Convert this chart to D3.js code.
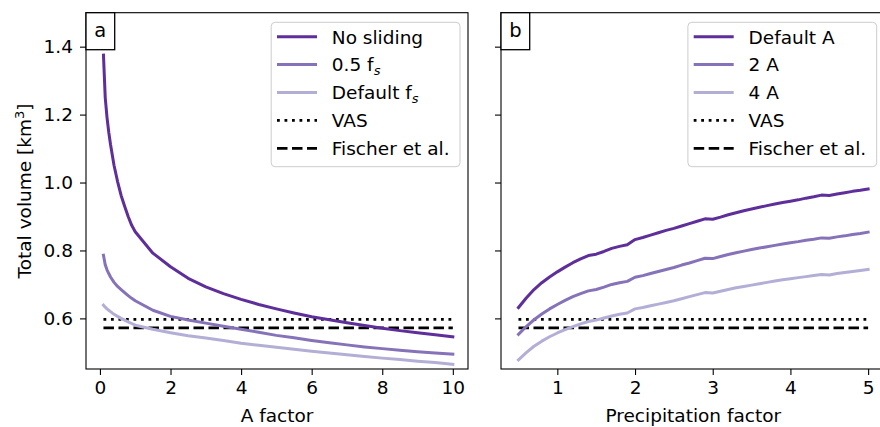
<!DOCTYPE html>
<html>
<head>
<meta charset="utf-8">
<script src="https://cdn.jsdelivr.net/npm/d3@7"></script>
<style>
  html, body { margin: 0; padding: 0; background: #ffffff; }
  svg { display: block; font-family: "DejaVu Sans", sans-serif; }
</style>
</head>
<body>
<svg id="chart" width="880" height="427"></svg>
<script>
// ---- Panel a: total volume vs. A factor ----
const aFactor = [0.1, 0.15, 0.2, 0.25, 0.3, 0.4, 0.5, 0.6, 0.7, 0.8, 0.9, 1.0,
  1.5, 2.0, 2.5, 3.0, 3.5, 4.0, 4.5, 5.0, 5.5, 6.0, 6.5, 7.0, 7.5, 8.0, 8.5, 9.0, 9.5, 10.0];
const noSliding = [1.375, 1.250, 1.192, 1.148, 1.112, 1.050, 1.003, 0.962, 0.930, 0.900, 0.874, 0.855,
  0.792, 0.752, 0.718, 0.693, 0.673, 0.656, 0.641, 0.628, 0.616, 0.605, 0.596, 0.587, 0.579, 0.571, 0.564, 0.558, 0.552, 0.546];
const halfFs = [0.786, 0.758, 0.743, 0.732, 0.722, 0.706, 0.694, 0.685, 0.676, 0.667, 0.659, 0.652,
  0.624, 0.606, 0.595, 0.586, 0.577, 0.568, 0.559, 0.550, 0.543, 0.535, 0.528, 0.522, 0.516, 0.511, 0.506, 0.502, 0.498, 0.495];
const defaultFs = [0.639, 0.633, 0.628, 0.624, 0.620, 0.612, 0.606, 0.600, 0.595, 0.590, 0.585, 0.580,
  0.568, 0.558, 0.549, 0.542, 0.535, 0.527, 0.521, 0.515, 0.509, 0.503, 0.498, 0.493, 0.488, 0.483, 0.479, 0.474, 0.470, 0.465];

// ---- Panel b: total volume vs. precipitation factor ----
const precipFactor = [0.5, 0.6, 0.7, 0.8, 0.9, 1.0, 1.1, 1.2, 1.3, 1.4, 1.5, 1.6, 1.7, 1.8, 1.9,
  2.0, 2.1, 2.2, 2.3, 2.4, 2.5, 2.6, 2.7, 2.8, 2.9, 3.0, 3.1, 3.2, 3.3, 3.4, 3.5, 3.6, 3.7, 3.8, 3.9,
  4.0, 4.1, 4.2, 4.3, 4.4, 4.5, 4.6, 4.7, 4.8, 4.9, 5.0];
const defaultA = [0.632, 0.660, 0.685, 0.705, 0.722, 0.737, 0.751, 0.764, 0.775, 0.785, 0.789, 0.797, 0.806, 0.812, 0.817,
  0.832, 0.838, 0.845, 0.852, 0.859, 0.865, 0.872, 0.879, 0.886, 0.893, 0.892, 0.898, 0.905, 0.911, 0.917, 0.922, 0.927, 0.932, 0.937, 0.941,
  0.945, 0.949, 0.954, 0.958, 0.963, 0.962, 0.966, 0.970, 0.974, 0.977, 0.981];
const twoA = [0.553, 0.576, 0.596, 0.613, 0.628, 0.641, 0.653, 0.664, 0.673, 0.681, 0.685, 0.692, 0.700, 0.705, 0.709,
  0.721, 0.726, 0.732, 0.738, 0.744, 0.750, 0.757, 0.763, 0.770, 0.777, 0.776, 0.782, 0.788, 0.793, 0.798, 0.803, 0.807, 0.811, 0.815, 0.819,
  0.823, 0.826, 0.830, 0.833, 0.837, 0.836, 0.840, 0.843, 0.847, 0.850, 0.854];
const fourA = [0.478, 0.499, 0.518, 0.533, 0.546, 0.557, 0.567, 0.576, 0.584, 0.591, 0.595, 0.601, 0.607, 0.612, 0.616,
  0.628, 0.632, 0.637, 0.642, 0.647, 0.652, 0.658, 0.664, 0.670, 0.676, 0.675, 0.680, 0.685, 0.690, 0.694, 0.698, 0.702, 0.706, 0.710, 0.714,
  0.717, 0.720, 0.723, 0.726, 0.729, 0.728, 0.732, 0.735, 0.738, 0.741, 0.744];

// Reference volumes
const vasVolume = 0.597;
const fischerVolume = 0.572;

// Tick values
const yTicks = [0.6, 0.8, 1.0, 1.2, 1.4];
const aTicks = [0, 2, 4, 6, 8, 10];
const pTicks = [1, 2, 3, 4, 5];

const colors = ["#5e2e9a", "#8672b8", "#b3aed6"];
const FS = 18.5;

const svg = d3.select("#chart");

const plotTop = 12.7, plotBottom = 369;
const y = d3.scaleLinear().domain([0.451, 1.5]).range([plotBottom, plotTop]);

const xa = d3.scaleLinear().domain([-0.395, 10.43]).range([86, 468]);
const xb = d3.scaleLinear().domain([0.275, 5.225]).range([501, 885.6]);

function panel(opts) {
  const { x, xs, series, labels, ticks, xLabel, letter, legendRight, showYLabels } = opts;
  const g = svg.append("g");
  const [x0, x1] = x.range();

  // reference lines
  const xExt = d3.extent(xs);
  g.append("line")
    .attr("x1", x(xExt[0])).attr("x2", x(xExt[1]))
    .attr("y1", y(vasVolume)).attr("y2", y(vasVolume))
    .attr("stroke", "#000").attr("stroke-width", 2.8)
    .attr("stroke-dasharray", "2.8,4.7");
  g.append("line")
    .attr("x1", x(xExt[0])).attr("x2", x(xExt[1]))
    .attr("y1", y(fischerVolume)).attr("y2", y(fischerVolume))
    .attr("stroke", "#000").attr("stroke-width", 2.8)
    .attr("stroke-dasharray", "10.5,4.5");

  // curves
  const line = d3.line().x(d => x(d[0])).y(d => y(d[1]));
  series.forEach((vals, i) => {
    g.append("path")
      .datum(xs.map((v, j) => [v, vals[j]]))
      .attr("d", line)
      .attr("fill", "none")
      .attr("stroke", colors[i])
      .attr("stroke-width", 3)
      .attr("stroke-linejoin", "round")
      .attr("stroke-linecap", "square");
  });

  // axes
  const xAxis = d3.axisBottom(x).tickValues(ticks).tickSize(6).tickPadding(6)
    .tickFormat(d3.format("d"));
  const gx = g.append("g").attr("transform", `translate(0,${plotBottom})`).call(xAxis);
  gx.select(".domain").remove();
  gx.selectAll("line").attr("stroke", "#000").attr("stroke-width", 1.1);
  gx.selectAll("text").attr("font-size", FS).attr("fill", "#000")
    .attr("font-family", "DejaVu Sans").attr("dy", "0.71em");

  const yAxis = d3.axisLeft(y).tickValues(yTicks).tickSize(6).tickPadding(7)
    .tickFormat(showYLabels ? d3.format(".1f") : "");
  const gy = g.append("g").attr("transform", `translate(${x0},0)`).call(yAxis);
  gy.select(".domain").remove();
  gy.selectAll("line").attr("stroke", "#000").attr("stroke-width", 1.1);
  gy.selectAll("text").attr("font-size", FS).attr("fill", "#000")
    .attr("font-family", "DejaVu Sans");

  // frame
  g.append("rect")
    .attr("x", x0).attr("y", plotTop).attr("width", x1 - x0).attr("height", plotBottom - plotTop)
    .attr("fill", "none").attr("stroke", "#000").attr("stroke-width", 1.1);

  // x label
  g.append("text")
    .attr("x", (x0 + x1) / 2)
    .attr("y", 422)
    .attr("text-anchor", "middle")
    .attr("font-size", FS)
    .text(xLabel);

  // panel letter
  const lb = g.append("g");
  lb.append("rect").attr("x", x0).attr("y", plotTop)
    .attr("width", 28.7).attr("height", 37)
    .attr("fill", "#fff").attr("stroke", "#000").attr("stroke-width", 1.3);
  lb.append("text").attr("x", x0 + 14.35).attr("y", plotTop + 24.5)
    .attr("text-anchor", "middle").attr("font-size", FS + 1).text(letter);

  // legend
  const lgW = 188.8, lgH = 144.4;
  const lgX = legendRight - lgW, lgY = 22.3;
  const lg = g.append("g");
  lg.append("rect").attr("x", lgX).attr("y", lgY).attr("width", lgW).attr("height", lgH)
    .attr("rx", 4).attr("ry", 4)
    .attr("fill", "#fff").attr("fill-opacity", 0.8)
    .attr("stroke", "#cccccc").attr("stroke-width", 1);
  const rowY = i => lgY + 14.4 + i * 27.9;
  const entries = [
    { stroke: colors[0], dash: null, lbl: labels[0] },
    { stroke: colors[1], dash: null, lbl: labels[1] },
    { stroke: colors[2], dash: null, lbl: labels[2] },
    { stroke: "#000", dash: "2.8,4.7", lbl: ["VAS"] },
    { stroke: "#000", dash: "10.5,4.5", lbl: ["Fischer et al."] }
  ];
  entries.forEach((e, i) => {
    const ly = rowY(i);
    lg.append("line")
      .attr("x1", lgX + 5.8).attr("x2", lgX + 45.8)
      .attr("y1", ly).attr("y2", ly)
      .attr("stroke", e.stroke).attr("stroke-width", e.dash ? 2.8 : 3)
      .attr("stroke-dasharray", e.dash);
    const t = lg.append("text").attr("x", lgX + 60.6).attr("y", ly + 6.8)
      .attr("font-size", FS);
    t.append("tspan").text(e.lbl[0]);
    if (e.lbl[1]) {
      t.append("tspan").attr("font-size", FS * 0.7).attr("font-style", "italic")
        .attr("dy", 4).text(e.lbl[1]);
    }
  });
}

panel({
  x: xa, xs: aFactor, series: [noSliding, halfFs, defaultFs],
  labels: [["No sliding"], ["0.5 f", "s"], ["Default f", "s"]],
  ticks: aTicks, xLabel: "A factor", letter: "a", legendRight: 460, showYLabels: true
});

panel({
  x: xb, xs: precipFactor, series: [defaultA, twoA, fourA],
  labels: [["Default A"], ["2 A"], ["4 A"]],
  ticks: pTicks, xLabel: "Precipitation factor", letter: "b", legendRight: 876.7, showYLabels: false
});

// shared y-axis label
const yl = svg.append("text")
  .attr("transform", "translate(30.5,191) rotate(-90)")
  .attr("text-anchor", "middle")
  .attr("font-size", FS);
yl.append("tspan").text("Total volume [km");
yl.append("tspan").attr("font-size", FS * 0.7).attr("dy", -7).text("3");
yl.append("tspan").attr("dy", 7).text("]");
</script>
</body>
</html>
